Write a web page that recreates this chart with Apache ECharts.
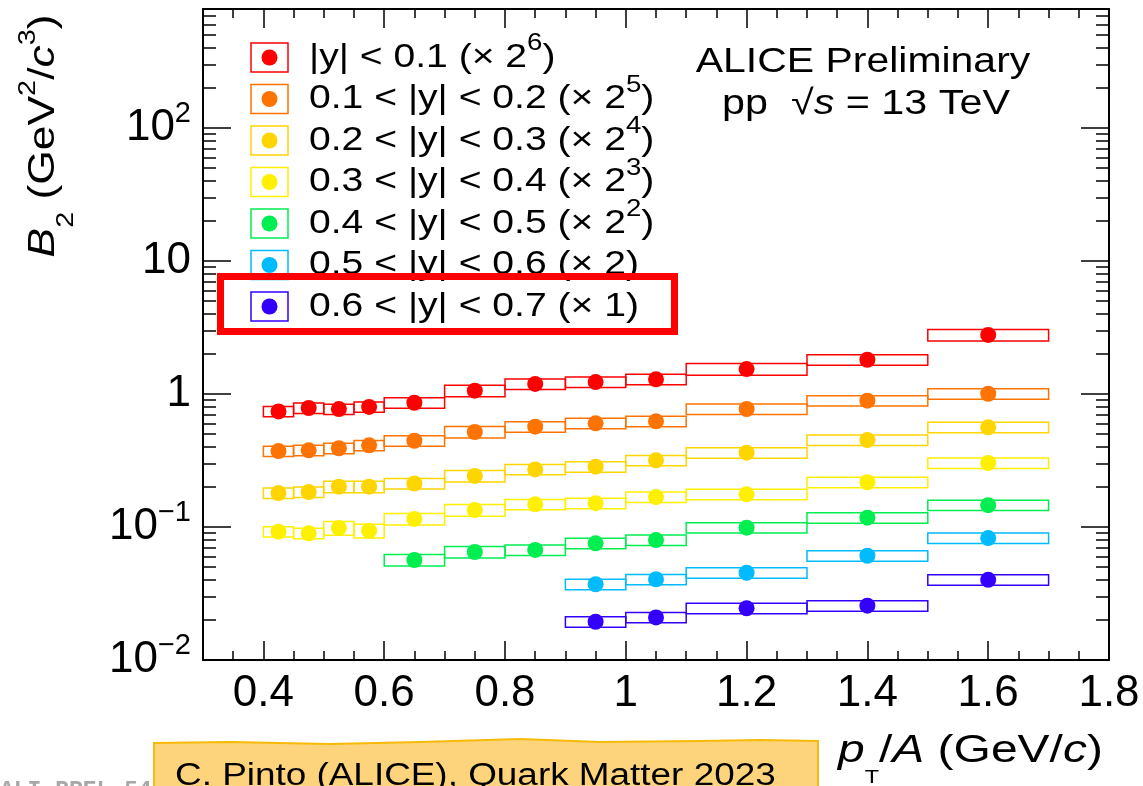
<!DOCTYPE html>
<html>
<head>
<meta charset="utf-8">
<script src="https://cdn.jsdelivr.net/npm/echarts@6/dist/echarts.min.js"></script>
<style>
  html, body { margin: 0; padding: 0; background: #fff; }
  #chart { width: 1143px; height: 786px; }
</style>
</head>
<body>
<div id="chart"></div>
<script>
// pT/A bins (GeV/c)
const binLow  = [0.40, 0.45, 0.50, 0.55, 0.60, 0.70, 0.80, 0.90, 1.00, 1.10, 1.30, 1.50];
const binHigh = [0.45, 0.50, 0.55, 0.60, 0.70, 0.80, 0.90, 1.00, 1.10, 1.30, 1.50, 1.70];

// B2 values (already scaled as in the legend)
const b2y01 = [0.74, 0.785, 0.77, 0.80, 0.86, 1.06, 1.19, 1.23, 1.29, 1.54, 1.81, 2.78];
const b2y12 = [0.372, 0.377, 0.391, 0.411, 0.445, 0.518, 0.568, 0.602, 0.623, 0.771, 0.891, 1.005];
const b2y23 = [0.180, 0.183, 0.201, 0.201, 0.212, 0.242, 0.271, 0.284, 0.317, 0.362, 0.451, 0.562];
const b2y34 = [0.0923, 0.0897, 0.0984, 0.0938, 0.115, 0.134, 0.148, 0.151, 0.168, 0.176, 0.217, 0.303];
const b2y45 = [null, null, null, null, 0.0565, 0.0649, 0.0672, 0.0754, 0.0798, 0.0989, 0.1175, 0.146];
const b2y56 = [null, null, null, null, null, null, null, 0.0371, 0.0404, 0.0453, 0.0608, 0.0826];
const b2y67 = [null, null, null, null, null, null, null, 0.0194, 0.0209, 0.0245, 0.0256, 0.0401];

// relative systematic uncertainties (box half height)
const sysY01 = [0.09, 0.09, 0.09, 0.09, 0.09, 0.10, 0.09, 0.09, 0.09, 0.10, 0.09, 0.10];
const sysY12 = [0.09, 0.09, 0.09, 0.09, 0.09, 0.10, 0.09, 0.09, 0.09, 0.09, 0.09, 0.09];
const sysY23 = [0.09, 0.09, 0.10, 0.10, 0.09, 0.10, 0.09, 0.09, 0.09, 0.09, 0.09, 0.09];
const sysY34 = [0.09, 0.09, 0.12, 0.12, 0.10, 0.10, 0.09, 0.09, 0.09, 0.09, 0.09, 0.09];
const sysY45 = [null, null, null, null, 0.10, 0.10, 0.09, 0.09, 0.09, 0.09, 0.09, 0.09];
const sysY56 = [null, null, null, null, null, null, null, 0.09, 0.09, 0.09, 0.09, 0.09];
const sysY67 = [null, null, null, null, null, null, null, 0.09, 0.09, 0.09, 0.09, 0.09];

const legendLabels = [
  '{n||y| < 0.1 (× 2}{sup|6}{n|)}',
  '{n|0.1 < |y| < 0.2 (× 2}{sup|5}{n|)}',
  '{n|0.2 < |y| < 0.3 (× 2}{sup|4}{n|)}',
  '{n|0.3 < |y| < 0.4 (× 2}{sup|3}{n|)}',
  '{n|0.4 < |y| < 0.5 (× 2}{sup|2}{n|)}',
  '{n|0.5 < |y| < 0.6 (× 2)}',
  '{n|0.6 < |y| < 0.7 (× 1)}'
];
const colors = ['#ff0000', '#ff7300', '#ffd500', '#fff000', '#00ee50', '#00bbff', '#3300ff'];

const xTickValues = [0.4, 0.6, 0.8, 1.0, 1.2, 1.4, 1.6, 1.8];
const yTickValues = [0.01, 0.1, 1, 10, 100];

const font = 'Liberation Sans';
const yMin = 0.01, yMax = 785;

const yMinor = [];
for (let e = -2; e <= 2; e++) {
  for (let k = 2; k <= 9; k++) {
    const v = k * Math.pow(10, e);
    if (v < yMax) yMinor.push(Number(v.toPrecision(3)));
  }
}

const valueSets = [b2y01, b2y12, b2y23, b2y34, b2y45, b2y56, b2y67];
const sysSets = [sysY01, sysY12, sysY23, sysY34, sysY45, sysY56, sysY67];

const series = [];
valueSets.forEach((vals, s) => {
  const pts = [], boxes = [];
  vals.forEach((v, i) => {
    if (v == null) return;
    pts.push([(binLow[i] + binHigh[i]) / 2, v]);
    boxes.push([binLow[i], binHigh[i], v * (1 - sysSets[s][i]), v * (1 + sysSets[s][i])]);
  });
  const c = colors[s];
  series.push({
    type: 'custom',
    z: 2,
    data: boxes,
    encode: { x: [0, 1], y: [2, 3] },
    renderItem: function (params, api) {
      const a = api.coord([api.value(0), api.value(3)]);
      const b = api.coord([api.value(1), api.value(2)]);
      return {
        type: 'rect',
        shape: { x: a[0], y: a[1], width: b[0] - a[0], height: b[1] - a[1] },
        style: { fill: 'none', stroke: c, lineWidth: 1.5 }
      };
    }
  });
  series.push({
    type: 'scatter',
    z: 3,
    symbol: 'circle',
    symbolSize: 16,
    itemStyle: { color: c, opacity: 1 },
    data: pts
  });
});

const legendGraphics = [];
legendLabels.forEach((t, i) => {
  const cy = 57.5 + 41.5 * i;
  legendGraphics.push({
    type: 'rect', shape: { x: 251, y: cy - 14.5, width: 37, height: 29 },
    style: { fill: 'none', stroke: colors[i], lineWidth: 1.5 }
  });
  legendGraphics.push({
    type: 'circle', shape: { cx: 269.5, cy: cy, r: 8 },
    style: { fill: colors[i] }
  });
  legendGraphics.push({
    type: 'text', x: 309, y: cy, scaleX: 1.15,
    style: {
      text: t, align: 'left', verticalAlign: 'middle',
      rich: {
        n: { fontFamily: font, fontSize: 34, fill: '#000' },
        sup: { fontFamily: font, fontSize: 24, fill: '#000', padding: [0, 0, 28, 0] }
      }
    }
  });
});

const axisBlack = { color: '#000', width: 2 };
const tickStyle = { color: '#000', width: 1.5 };

const option = {
  backgroundColor: '#fff',
  animation: false,
  grid: { left: 203, right: 34, top: 9, bottom: 126 },
  xAxis: [
    {
      type: 'value', position: 'bottom', min: 0.3, max: 1.8, interval: 0.05,
      axisLine: { show: true, lineStyle: axisBlack },
      axisTick: { inside: true, length: 9, lineStyle: tickStyle },
      axisLabel: {
        customValues: xTickValues, margin: 12,
        fontFamily: font, fontSize: 44, color: '#000',
        formatter: v => String(Number(v.toFixed(2)))
      },
      splitLine: { show: false }
    },
    {
      type: 'value', position: 'bottom', min: 0.3, max: 1.8,
      axisLine: { show: false },
      axisTick: { inside: true, length: 19, lineStyle: tickStyle, customValues: xTickValues },
      axisLabel: { show: false }, splitLine: { show: false }
    },
    {
      type: 'value', position: 'top', min: 0.3, max: 1.8, interval: 0.05,
      axisLine: { show: true, lineStyle: axisBlack },
      axisTick: { inside: true, length: 9, lineStyle: tickStyle },
      axisLabel: { show: false }, splitLine: { show: false }
    },
    {
      type: 'value', position: 'top', min: 0.3, max: 1.8,
      axisLine: { show: false },
      axisTick: { inside: true, length: 19, lineStyle: tickStyle, customValues: xTickValues },
      axisLabel: { show: false }, splitLine: { show: false }
    }
  ],
  yAxis: [
    {
      type: 'log', logBase: 10, position: 'left', min: yMin, max: yMax,
      axisLine: { show: true, lineStyle: axisBlack },
      axisTick: { inside: true, length: 28, lineStyle: tickStyle, customValues: yTickValues },
      axisLabel: {
        customValues: yTickValues, margin: 12,
        formatter: function (v) {
          const e = Math.round(Math.log10(v));
          if (e === 0) return '{n|1}';
          if (e === 1) return '{n|10}';
          return '{n|10}{sup|' + (e < 0 ? '\u2212' + (-e) : e) + '}';
        },
        rich: {
          n: { fontFamily: font, fontSize: 44, color: '#000' },
          sup: { fontFamily: font, fontSize: 29, color: '#000', padding: [0, 0, 28, 0] }
        }
      },
      splitLine: { show: false }
    },
    {
      type: 'log', logBase: 10, position: 'right', min: yMin, max: yMax,
      axisLine: { show: true, lineStyle: axisBlack },
      axisTick: { inside: true, length: 28, lineStyle: tickStyle, customValues: yTickValues },
      axisLabel: { show: false }, splitLine: { show: false }
    },
    {
      type: 'log', logBase: 10, position: 'left', min: yMin, max: yMax,
      axisLine: { show: false },
      axisTick: { inside: true, length: 13, lineStyle: tickStyle, customValues: yMinor },
      axisLabel: { show: false }, splitLine: { show: false }
    },
    {
      type: 'log', logBase: 10, position: 'right', min: yMin, max: yMax,
      axisLine: { show: false },
      axisTick: { inside: true, length: 13, lineStyle: tickStyle, customValues: yMinor },
      axisLabel: { show: false }, splitLine: { show: false }
    }
  ],
  series: series,
  graphic: [
    // x title
    {
      type: 'text', x: 838, y: 751, scaleX: 1.23,
      style: {
        text: '{i|p}{sub|T}{n|/}{i|A}{n| (GeV/}{i|c}{n|)}',
        align: 'left', verticalAlign: 'middle',
        rich: {
          n: { fontFamily: font, fontSize: 39, fill: '#000' },
          i: { fontFamily: font, fontSize: 39, fontStyle: 'italic', fill: '#000' },
          sub: { fontFamily: font, fontSize: 19, fill: '#000', padding: [54, 0, 0, 0] }
        }
      }
    },
    // y title
    {
      type: 'text', x: 44, y: 136, rotation: Math.PI / 2, scaleX: 1.2,
      style: {
        text: '{i|B}{sub|2}{n| (GeV}{sup|2}{n|/}{i|c}{sup|3}{n|)}',
        align: 'center', verticalAlign: 'middle',
        rich: {
          n: { fontFamily: font, fontSize: 37, fill: '#000' },
          i: { fontFamily: font, fontSize: 37, fontStyle: 'italic', fill: '#000' },
          sub: { fontFamily: font, fontSize: 24, fill: '#000', padding: [44, 0, 0, 0] },
          sup: { fontFamily: font, fontSize: 24, fill: '#000', padding: [0, 0, 32, 0] }
        }
      }
    },
    // ALICE label
    {
      type: 'text', x: 863, y: 62, scaleX: 1.17,
      style: { text: 'ALICE Preliminary', align: 'center', verticalAlign: 'middle',
               fontFamily: font, fontSize: 35, fill: '#000' }
    },
    {
      type: 'text', x: 866, y: 104, scaleX: 1.18,
      style: {
        text: '{n|pp  \u221A}{i|s}{n| = 13 TeV}', align: 'center', verticalAlign: 'middle',
        rich: {
          n: { fontFamily: font, fontSize: 35, fill: '#000' },
          i: { fontFamily: font, fontSize: 35, fontStyle: 'italic', fill: '#000' }
        }
      }
    },
    // highlight around the last legend entry
    {
      type: 'rect', shape: { x: 220.5, y: 276.5, width: 454, height: 55 },
      style: { fill: 'none', stroke: '#ff0000', lineWidth: 7 }, z: 10
    },
    // preliminary id text
    {
      type: 'text', x: 0, y: 791,
      style: { text: 'ALI-PREL-546543', align: 'left', verticalAlign: 'middle',
               fontFamily: 'Liberation Mono', fontWeight: 'bold', fontSize: 23, fill: '#a8a8a8' }
    },
    // conference note
    {
      type: 'polygon', z: 20,
      shape: { points: [[154, 790], [154, 743], [230, 742], [330, 744], [420, 742], [520, 739],
                        [600, 742], [700, 741], [760, 740], [818, 741], [818, 790]] },
      style: { fill: '#fdd47c', stroke: '#f7ba08', lineWidth: 2 }
    },
    {
      type: 'text', x: 175, y: 776, z: 21, scaleX: 1.19,
      style: { text: 'C. Pinto (ALICE), Quark Matter 2023', align: 'left', verticalAlign: 'middle',
               fontFamily: font, fontSize: 31, fill: '#000' }
    }
  ].concat(legendGraphics)
};

const chart = echarts.init(document.getElementById('chart'));
chart.setOption(option);
</script>
</body>
</html>
